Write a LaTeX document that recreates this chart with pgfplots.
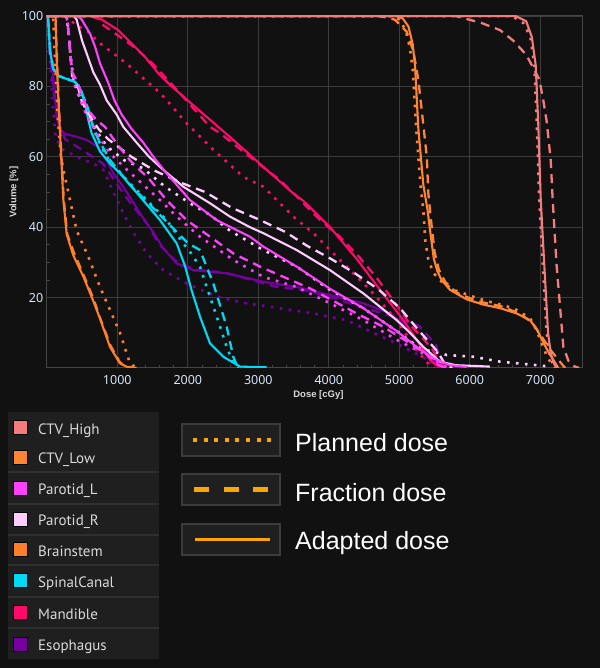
\documentclass[border=0pt]{standalone}
\usepackage{pgfplots}
\pgfplotsset{compat=1.18}
\usepackage{fontspec}
\setmainfont{Noto Sans}
\newfontfamily\ptsans{PT Sans}
\newfontfamily\arialf{Liberation Sans}
\definecolor{bgc}{HTML}{111111}
\definecolor{panelc}{HTML}{1F1F1F}
\definecolor{sepc}{HTML}{2F2F2F}
\definecolor{gridc}{HTML}{3C3C3C}
\definecolor{framec}{HTML}{464646}
\definecolor{tickc}{HTML}{D4E6F8}
\definecolor{labc}{HTML}{DADADA}
\definecolor{legtc}{HTML}{DADADA}
\definecolor{ctvhigh}{HTML}{F47C7C}
\definecolor{ctvlow}{HTML}{FF8533}
\definecolor{parl}{HTML}{FF40FF}
\definecolor{parr}{HTML}{FFCCFF}
\definecolor{brain}{HTML}{FF7F2A}
\definecolor{spinal}{HTML}{00D8F4}
\definecolor{mand}{HTML}{FF0A6A}
\definecolor{esoph}{HTML}{74009E}
\definecolor{legline}{HTML}{FFA500}
\tikzset{
  planned/.style={line width=2.6pt, dash pattern=on 2.6pt off 6.4pt},
  fraction/.style={line width=2.3pt, dash pattern=on 9pt off 6pt},
  adapted/.style={line width=2.1pt, solid},
}
\begin{document}
\begin{tikzpicture}
\fill[bgc] (0pt,0pt) rectangle (600pt,668pt);
\begin{axis}[
  at={(46.8pt,300pt)}, anchor=south west,
  scale only axis, width=535.8pt, height=352pt,
  xmin=0, xmax=7600, ymin=0, ymax=100,
  xtick={1000,2000,3000,4000,5000,6000,7000},
  ytick={20,40,60,80,100},
  minor x tick num=4, minor y tick num=3,
  tick pos=left, tick align=inside,
  major tick length=0pt, minor tick length=3pt,
  grid=major,
  major grid style={gridc, line width=0.9pt},
  axis line style={framec, line width=1pt},
  tick style={framec, line width=0.8pt},
  ticklabel style={font=\fontsize{12.5}{13}\selectfont, text=tickc},
  /pgf/number format/assume math mode=true,
  /pgf/number format/set thousands separator={},
  xticklabel style={yshift=-4pt},
  xlabel={Dose [cGy]}, ylabel={Volume [\%]},
  label style={font=\arialf\bfseries\fontsize{9.5}{11}\selectfont, text=labc},
  xlabel style={at={(axis description cs:0.507,-0.077)}, anchor=center},
  ylabel style={at={(axis description cs:-0.0615,0.5)}, anchor=center},
  axis background/.style={fill=bgc},
]
% ---------- Esophagus ----------
\addplot[esoph, planned] coordinates {(0,100)(40,90)(80,75)(130,65)(234,62)(471,59.6)(660,58.1)(802,56.3)(943,50)(1085,44)(1227,38.5)(1417,32.6)(1653,27.8)(1984,24)(2410,20.3)(2787,18.5)(3166,17.4)(3781,15.5)(4253,13.6)(4631,10)(4963,7)(5247,4)(5482,1.3)(5600,0)};
\addplot[esoph, fraction] coordinates {(0,100)(40,90)(100,78)(160,70)(260,65)(500,62)(800,58)(1000,52)(1200,46.5)(1420,41)(1600,35)(1850,30)(2100,28)(2550,27)(3261,23)(3700,22)(4200,19)(4844,15)(5280,12)(5520,6.5)(5600,1)(5650,0)};
\addplot[esoph, adapted] coordinates {(0,100)(30,95)(80,86)(116,77)(140,71)(187,68)(258,66.5)(424,65.7)(566,64.8)(708,63)(850,59)(943,55.3)(1085,51.5)(1322,44)(1511,38.5)(1653,34)(1842,29.7)(2078,27.8)(2552,26.9)(3071,24.5)(3545,23)(4017,20.7)(4489,18.4)(4868,15.5)(5105,11.7)(5247,8)(5436,3.2)(5560,0.5)(5650,0)};
% ---------- Mandible ----------
\addplot[mand, planned] coordinates {(0,100)(250,100)(424,97.4)(589,95.5)(731,92.6)(943,89.4)(1156,86.1)(1369,82.3)(1559,79)(1677,76.6)(1984,69.5)(2362,62)(2787,54.3)(3071,51.5)(3497,43)(3781,38.3)(4112,31.6)(4584,22.2)(4963,13.6)(5247,5)(5400,1.5)(5500,0)};
\addplot[mand, fraction] coordinates {(0,100)(700,100)(800,97.4)(1000,94.6)(1250,91)(1500,86.5)(1800,80)(2315,68.5)(2457,66.7)(2882,60)(3071,57)(3308,53.4)(3545,48.7)(3847,42.6)(4160,37.2)(4442,31.3)(4680,25.6)(4939,18.5)(5180,11.7)(5320,8.8)(5480,5)(5530,3)(5600,1)(5680,0)};
\addplot[mand, adapted] coordinates {(0,100)(600,100)(778,99)(1014,96)(1204,92.2)(1393,88.4)(1582,83.7)(1771,80)(2173,73)(2645,64.8)(3119,56.3)(3497,49.6)(3638,47.5)(4017,40)(4395,31)(4726,22.2)(5057,13.6)(5247,8)(5436,2.3)(5550,0.4)(5650,0)};
% ---------- SpinalCanal ----------
\addplot[spinal, planned] coordinates {(0,100)(20,99)(45,90)(92,85)(163,83)(258,82.3)(400,81.3)(480,79)(560,75)(620,71)(700,66)(850,60)(1133,53.4)(1417,47.7)(1700,42)(1936,35.4)(2031,33)(2173,28.8)(2268,23)(2410,14.6)(2552,6)(2645,1.3)(2720,0)};
\addplot[spinal, fraction] coordinates {(0,100)(20,99)(45,90)(92,85)(163,83)(258,82.3)(400,81.3)(490,78.5)(580,74)(650,69)(730,65)(900,59)(1180,52)(1460,46.5)(1750,40.5)(2000,35.5)(2173,33.5)(2362,24)(2552,11.7)(2645,3.2)(2700,0.5)(2760,0)};
\addplot[spinal, adapted] coordinates {(0,100)(20,99)(45,90)(92,85)(163,83)(258,82.3)(400,81.3)(471,79.5)(542,75)(589,70.5)(636,66.7)(755,61.5)(900,58)(1038,55.3)(1322,48.7)(1606,42)(1842,35.4)(1960,29)(2055,22)(2173,14.6)(2315,7)(2504,3.2)(2740,0.4)(3119,0.2)};
% ---------- Brainstem ----------
\addplot[brain, planned] coordinates {(0,100)(90,100)(110,90)(140,78)(163,69)(200,60)(260,54)(305,50)(329,47.7)(424,39)(589,31.6)(755,23)(896,16.5)(1038,10)(1180,1.3)(1275,0)};
\addplot[brain, fraction] coordinates {(0,100)(120,100)(145,88)(168,76)(190,67)(240,48)(290,38)(380,33)(520,26.5)(665,19.5)(760,14)(900,6.5)(1040,1.5)(1150,0.3)(1250,0)};
\addplot[brain, adapted] coordinates {(0,100)(125,100)(140,88)(165,76)(187,67)(234,48)(282,38)(376,32)(518,26)(660,19)(755,14)(896,6)(1038,1.3)(1150,0.2)(1275,0)};
% ---------- Parotid_R ----------
\addplot[parr, planned] coordinates {(0,100)(280,100)(310,95)(340,88)(380,82)(450,78)(520,74)(650,69)(850,63)(1100,59)(1369,56.7)(1677,51.5)(2031,46.8)(2315,43.5)(2599,39)(3071,33.5)(3545,28.8)(4017,22.2)(4489,17)(4963,10.5)(5300,5.5)(5672,3.7)(6050,3.2)(6428,1.8)(6901,0.9)(7090,0.5)(7150,0)};
\addplot[parr, fraction] coordinates {(0,100)(280,100)(300,97)(330,90)(360,83)(440,80)(500,75.5)(600,72)(730,68)(870,65)(1200,60)(1535,56)(1920,52.5)(2245,50)(2625,45.5)(2996,42.3)(3379,38.7)(3692,34.7)(4031,31)(4341,27.3)(4700,22.4)(5010,17)(5270,10.8)(5550,4.5)(5650,1)(5750,0)};
\addplot[parr, adapted] coordinates {(0,100)(380,100)(423,99)(500,93)(589,88)(660,84)(755,80.5)(850,76)(991,72)(1085,68.5)(1275,64)(1450,60)(1653,56.3)(1936,51.5)(2315,46.8)(2599,43)(2882,40)(3071,38.3)(3545,33.5)(4017,27.8)(4489,21.2)(4963,13.6)(5152,10)(5341,6)(5577,1.8)(5800,0.8)(6286,0.4)};
% ---------- Parotid_L ----------
\addplot[parl, planned] coordinates {(0,100)(290,100)(320,93)(350,86)(400,80)(480,76)(560,72)(700,67)(896,61)(1100,57)(1322,52.9)(1606,47.7)(1842,43)(2173,37.3)(2645,30.7)(3071,25.9)(3545,23)(4017,18.4)(4489,13.6)(4963,8)(5247,5.1)(5436,3)(5600,1)(5700,0)};
\addplot[parl, fraction] coordinates {(0,100)(280,100)(300,97)(330,90)(360,84)(440,81)(500,77)(600,73)(700,70.5)(826,68.5)(1000,63.5)(1180,59)(1464,53.4)(1700,47.7)(1984,42)(2315,37.3)(2650,32.5)(3024,28.8)(3355,25.9)(3735,22.6)(4395,15.5)(4774,11.7)(5152,7)(5436,3.2)(5550,1)(5650,0)};
\addplot[parl, adapted] coordinates {(0,100)(440,100)(494,99)(613,95)(684,91.3)(755,86.5)(872,81)(960,76)(1062,72)(1200,68)(1369,64)(1530,59.5)(1700,55.3)(2031,47.7)(2410,42)(2882,37.3)(3071,34.5)(3545,28.8)(4017,22.5)(4489,17)(4963,10.5)(5247,6)(5482,2.7)(5719,0.8)(5956,0.3)};
% ---------- CTV_Low ----------
\addplot[ctvlow, planned] coordinates {(0,100)(4900,100)(5000,99)(5090,96)(5150,91)(5190,85)(5240,68)(5300,52)(5340,45)(5370,36)(5410,31)(5482,27)(5600,24.5)(5766,22.2)(6192,19.3)(6617,17)(6854,14.2)(6940,11)(7020,7)(7090,3.5)(7150,1.5)(7220,0)};
\addplot[ctvlow, fraction] coordinates {(0,100)(4700,100)(4850,99.5)(4940,98.9)(5105,95.5)(5200,90)(5270,81.8)(5318,73.3)(5390,60)(5412,49.6)(5450,42)(5500,33)(5560,28)(5650,24.5)(5800,21.5)(6100,19)(6450,17.5)(6700,15.5)(6880,13)(7000,9.5)(7150,5)(7250,2.5)(7330,0.5)(7360,0)};
\addplot[ctvlow, adapted] coordinates {(0,100)(4950,100)(5050,99.3)(5130,97)(5190,92)(5224,85.6)(5270,68)(5341,52)(5400,45)(5450,37)(5490,31)(5540,27.5)(5600,25)(5719,22.2)(5956,19.5)(6192,18)(6428,17)(6665,15.5)(6854,13.6)(6950,11)(7050,7)(7130,4)(7185,2.3)(7256,0)};
% ---------- CTV_High ----------
\addplot[ctvhigh, planned] coordinates {(0,100)(6600,100)(6760,98)(6860,94)(6915,86)(6950,70)(6985,48)(7040,28)(7090,10)(7130,4)(7180,1)(7220,0)};
\addplot[ctvhigh, fraction] coordinates {(0,100)(5800,100)(6168,98)(6428,96)(6617,93)(6800,89)(6986,82)(7043,76)(7091,70)(7148,59)(7175,48)(7232,29)(7290,15)(7327,6)(7400,2)(7480,0.5)(7550,0)};
\addplot[ctvhigh, adapted] coordinates {(0,100)(6650,100)(6800,98.5)(6880,94)(6935,86)(6970,70)(7006,48)(7060,28)(7110,10)(7150,4)(7200,1)(7250,0)};
\end{axis}
% ---------- structure legend panel ----------
\fill[panelc] (8pt,9pt) rectangle (159pt,256pt);
\foreach \yy in {196,164,133,103,71,40} {\draw[sepc, line width=1.5pt] (8pt,\yy pt) -- (159pt,\yy pt);}
\foreach \cc/\yc/\yb/\name in {ctvhigh/240/233.7/CTV\_High, ctvlow/210.5/204.7/CTV\_Low, parl/179/173/Parotid\_L, parr/148/142/Parotid\_R, brain/118/111.3/Brainstem, spinal/87/80.3/SpinalCanal, mand/55/48.7/Mandible, esoph/23.5/17.3/Esophagus} {
  \filldraw[fill=\cc, draw=black, line width=1pt] (13.5pt,\yc pt-7pt) rectangle (27.5pt,\yc pt+7pt);
  \node[anchor=base west, inner sep=0pt, text=legtc, font=\ptsans\fontsize{15}{16}\selectfont] at (38pt,\yb pt) {\name};
}
% ---------- line-style legend ----------
\foreach \yt/\yl in {244/212, 194/163, 144/113} {
  \filldraw[fill=panelc, draw=gridc, line width=1.2pt] (182pt,\yl pt) rectangle (280pt,\yt pt);
}
\draw[legline, line width=4pt, dash pattern=on 4pt off 6.6pt] (193pt,228pt) -- (271pt,228pt);
\draw[legline, line width=4.5pt, dash pattern=on 15pt off 14.5pt] (194pt,178.5pt) -- (270pt,178.5pt);
\draw[legline, line width=3pt] (195pt,128.5pt) -- (270pt,128.5pt);
\node[anchor=base west, inner sep=0pt, text=white, font=\arialf\fontsize{25}{26}\selectfont] at (295pt,216pt) {Planned dose};
\node[anchor=base west, inner sep=0pt, text=white, font=\arialf\fontsize{25}{26}\selectfont] at (295pt,166.3pt) {Fraction dose};
\node[anchor=base west, inner sep=0pt, text=white, font=\arialf\fontsize{25}{26}\selectfont] at (295pt,118pt) {Adapted dose};
\pgfresetboundingbox
\path[use as bounding box] (0pt,0pt) rectangle (600pt,668pt);
\end{tikzpicture}
\end{document}
